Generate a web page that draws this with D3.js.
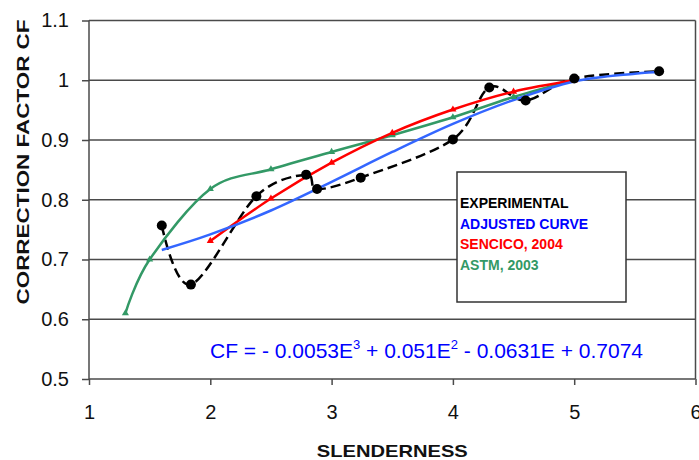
<!DOCTYPE html>
<html>
<head>
<meta charset="utf-8">
<script src="https://cdn.jsdelivr.net/npm/d3@7"></script>
<style>
    body { margin: 0; background: #fff; }
    svg { display: block; font-family: Arial, "Liberation Sans", sans-serif; }
    .axis path, .axis line { stroke: #4a4a4a; stroke-width: 1.5; }
    .axis text { font-size: 20px; fill: #111; }
    .grid line { stroke: #4a4a4a; stroke-width: 1.5; }
</style>
</head>
<body>
<div id="chart"></div>
<script>
// values
const experimentalX = [1.6, 1.84, 2.38, 2.79, 2.88, 3.24, 4.0, 4.3, 4.6, 5.0, 5.7];
const experimentalY = [0.757, 0.658, 0.806, 0.842, 0.818, 0.837, 0.901, 0.988, 0.966, 1.003, 1.015];
const adjustedX = [1.6, 2, 2.5, 3, 3.5, 4, 4.5, 5, 5.5, 5.7];
const adjustedY = [0.716, 0.742, 0.782, 0.830, 0.880, 0.927, 0.967, 0.998, 1.011, 1.014];
const sencicoX = [2, 2.5, 3, 3.5, 4, 4.5, 5];
const sencicoY = [0.731, 0.802, 0.862, 0.912, 0.951, 0.981, 1.0];
const astmX = [1.3, 1.5, 2, 2.5, 3, 3.5, 4, 4.5, 5];
const astmY = [0.61, 0.70, 0.818, 0.851, 0.88, 0.908, 0.938, 0.972, 1.0];

const xTicks = [1, 2, 3, 4, 5, 6];
const yTicks = [0.5, 0.6, 0.7, 0.8, 0.9, 1.0, 1.1];
const legendLabels = ["EXPERIMENTAL", "ADJUSTED CURVE", "SENCICO, 2004", "ASTM, 2003"];
const legendColors = ["#000000", "#0000ff", "#ff0000", "#339966"];

let margin = {top: 20.5, left: 89, right: 3.5, bottom: 81},
    totalWidth = 699,
    totalHeight = 460,
    width = totalWidth - margin.left - margin.right,
    height = totalHeight - margin.top - margin.bottom;

let x = d3.scaleLinear().domain([1, 6]).range([0, width]),
    y = d3.scaleLinear().domain([0.5, 1.1]).range([height, 0]);

let svg = d3.select('#chart')
    .append('svg')
    .attr('width', totalWidth)
    .attr('height', totalHeight);

let g = svg.append('g')
    .attr('transform', `translate(${margin.left},${margin.top})`);

// horizontal gridlines + right border of the plot area
g.append('g')
    .classed('grid', true)
    .selectAll('line')
    .data(yTicks.filter(d => d > 0.5))
    .join('line')
    .attr('x1', 0)
    .attr('x2', width)
    .attr('y1', d => y(d))
    .attr('y2', d => y(d));

g.append('g')
    .classed('grid', true)
    .append('line')
    .attr('x1', x(6)).attr('x2', x(6))
    .attr('y1', y(1.1)).attr('y2', y(0.5));

// axes
g.append('g')
    .classed('axis', true)
    .call(d3.axisLeft(y).tickValues(yTicks).tickSize(7).tickPadding(13)
        .tickFormat(d => String(+d.toFixed(1))))
    .call(a => a.select('.domain').attr('d', `M0,${height}V0`));

g.append('g')
    .classed('axis', true)
    .attr('transform', `translate(0,${height})`)
    .call(d3.axisBottom(x).tickValues(xTicks).tickSize(6).tickPadding(20).tickFormat(d3.format('d')))
    .call(a => a.select('.domain').attr('d', `M0,0H${width}`));

// axis titles
svg.append('text')
    .attr('x', margin.left + width / 2)
    .attr('y', 457)
    .attr('text-anchor', 'middle')
    .attr('font-size', 17)
    .attr('font-weight', 'bold')
    .attr('fill', '#111')
    .attr('textLength', 151)
    .attr('lengthAdjust', 'spacingAndGlyphs')
    .text('SLENDERNESS');

svg.append('text')
    .attr('transform', 'translate(29,162) rotate(-90)')
    .attr('text-anchor', 'middle')
    .attr('font-size', 17)
    .attr('font-weight', 'bold')
    .attr('fill', '#111')
    .attr('textLength', 285)
    .attr('lengthAdjust', 'spacingAndGlyphs')
    .text('CORRECTION FACTOR CF');

// series
let smooth = d3.line()
    .x(d => x(d[0]))
    .y(d => y(d[1]))
    .curve(d3.curveCatmullRom.alpha(0));

let expData = d3.zip(experimentalX, experimentalY),
    adjData = d3.zip(adjustedX, adjustedY),
    senData = d3.zip(sencicoX, sencicoY),
    astmData = d3.zip(astmX, astmY);

g.append('path')
    .datum(expData)
    .attr('d', smooth)
    .attr('fill', 'none')
    .attr('stroke', '#000')
    .attr('stroke-width', 2.5)
    .attr('stroke-dasharray', '10,5');

g.append('path')
    .datum(astmData)
    .attr('d', smooth)
    .attr('fill', 'none')
    .attr('stroke', '#339966')
    .attr('stroke-width', 2.5);

g.append('path')
    .datum(senData)
    .attr('d', smooth)
    .attr('fill', 'none')
    .attr('stroke', '#ff0000')
    .attr('stroke-width', 2.5);

g.append('path')
    .datum(adjData)
    .attr('d', smooth)
    .attr('fill', 'none')
    .attr('stroke', '#3366ff')
    .attr('stroke-width', 2.5);

// markers
let tri = d3.symbol().type(d3.symbolTriangle).size(22);

g.append('g')
    .selectAll('path')
    .data(astmData)
    .join('path')
    .attr('transform', d => `translate(${x(d[0])},${y(d[1])})`)
    .attr('d', tri)
    .attr('fill', '#339966');

g.append('g')
    .selectAll('path')
    .data(senData)
    .join('path')
    .attr('transform', d => `translate(${x(d[0])},${y(d[1])})`)
    .attr('d', tri)
    .attr('fill', '#ff0000');

g.append('g')
    .selectAll('circle')
    .data(expData)
    .join('circle')
    .attr('cx', d => x(d[0]))
    .attr('cy', d => y(d[1]))
    .attr('r', 5)
    .attr('fill', '#000');

// legend box
let legend = svg.append('g').attr('transform', 'translate(457,172)');

legend.append('rect')
    .attr('width', 169)
    .attr('height', 130)
    .attr('fill', '#fff')
    .attr('stroke', '#333')
    .attr('stroke-width', 1.5);

legend.selectAll('text')
    .data(legendLabels)
    .join('text')
    .attr('x', 3)
    .attr('y', (d, i) => 36 + i * 20.7)
    .attr('font-size', 14)
    .attr('font-weight', 'bold')
    .attr('fill', (d, i) => legendColors[i])
    .text(d => d);

// fitted equation
let eq = svg.append('text')
    .attr('x', 210)
    .attr('y', 358)
    .attr('font-size', 21)
    .attr('fill', '#0000ff');

eq.append('tspan').text('CF = - 0.0053E');
eq.append('tspan').attr('dy', -9).attr('font-size', 13).text('3');
eq.append('tspan').attr('dy', 9).text(' + 0.051E');
eq.append('tspan').attr('dy', -9).attr('font-size', 13).text('2');
eq.append('tspan').attr('dy', 9).text(' - 0.0631E + 0.7074');
</script>
</body>
</html>
